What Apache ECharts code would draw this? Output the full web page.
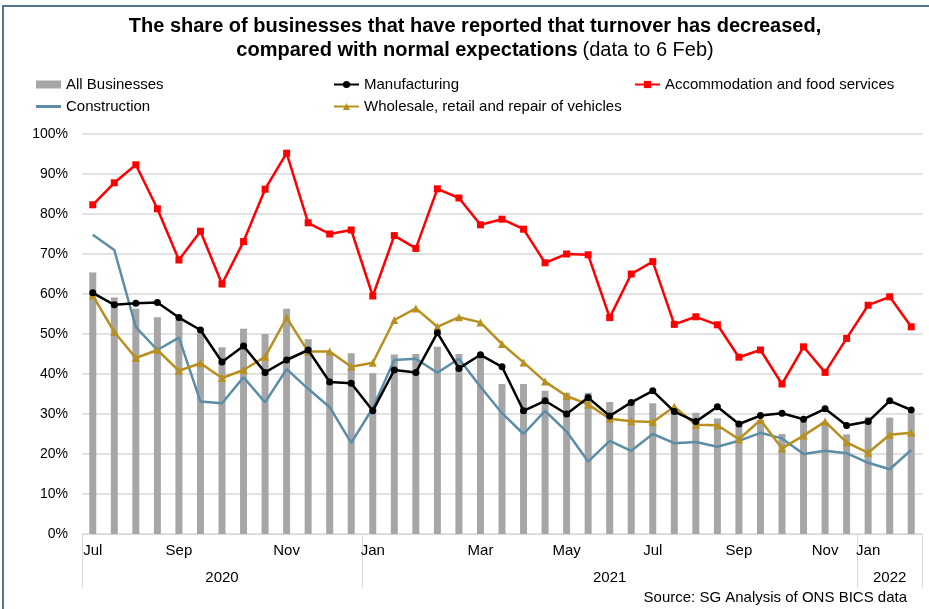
<!DOCTYPE html>
<html>
<head>
<meta charset="utf-8">
<script src="https://cdn.jsdelivr.net/npm/echarts@6/dist/echarts.min.js"></script>
<style>
  html, body { margin: 0; padding: 0; background: #fff; }
  #frame { position: absolute; left: 2px; top: 5px; width: 940px; height: 620px;
           border-left: 2px solid #4e7691; border-top: 2px solid #4e7691; box-sizing: border-box; }
  #chart { position: absolute; left: 0; top: 0; width: 929px; height: 609px; }
</style>
</head>
<body>
<div id="frame"></div>
<div id="chart"></div>
<script>
// ---- data (fortnightly survey waves, Jul 2020 – Feb 2022) ----
const monthLabels = ['Jul','','','','Sep','','','','','Nov','','','','Jan','','','','','Mar','','','','May','','','','Jul','','','','Sep','','','','Nov','','Jan','',''];
const yearLabels  = ['','','','','','','2020','','','','','','','','','','','','','','','','','','2021','','','','','','','','','','','','','2022',''];
const yearStartIdx = [0, 13, 36];
const periods = monthLabels.map((m, i) => 'w' + (i + 1));

const allBusinesses = [65.4, 59.1, 56.3, 54.2, 53.5, 50.2, 46.7, 51.3, 50.0, 56.3, 48.7, 45.5, 45.2, 40.2, 44.9, 45.0, 46.8, 45.0, 44.2, 37.5, 37.5, 35.8, 35.3, 35.3, 33.0, 32.7, 32.7, 30.5, 30.3, 28.9, 27.7, 28.5, 25.0, 28.1, 28.0, 24.9, 29.3, 29.1, 30.2];
const manufacturing = [60.3, 57.3, 57.7, 57.9, 54.1, 51.0, 43.0, 47.0, 40.4, 43.5, 46.0, 38.0, 37.7, 30.8, 41.0, 40.4, 50.3, 41.4, 44.8, 41.8, 30.8, 33.3, 30.0, 34.1, 29.5, 32.9, 35.8, 30.6, 28.1, 31.8, 27.5, 29.6, 30.2, 28.7, 31.3, 27.1, 28.1, 33.3, 31.0];
const accommodation = [82.3, 87.8, 92.3, 81.3, 68.5, 75.7, 62.5, 73.1, 86.2, 95.2, 77.8, 75.0, 76.0, 59.5, 74.6, 71.4, 86.3, 84.0, 77.3, 78.7, 76.2, 67.8, 70.0, 69.8, 54.1, 65.0, 68.1, 52.4, 54.3, 52.3, 44.2, 46.0, 37.5, 46.8, 40.4, 48.9, 57.2, 59.3, 51.8];
const construction  = [74.8, 71.0, 51.7, 46.0, 49.1, 33.1, 32.7, 39.2, 32.9, 41.2, 36.3, 31.7, 22.8, 31.5, 43.5, 43.8, 40.3, 43.8, 36.8, 30.2, 25.0, 30.8, 25.6, 18.1, 23.3, 20.8, 25.0, 22.7, 23.0, 21.8, 23.3, 25.3, 23.9, 20.0, 20.8, 20.2, 17.8, 16.2, 21.0];
const wholesale     = [59.6, 50.5, 44.0, 46.0, 40.8, 42.7, 39.0, 41.0, 44.3, 54.1, 45.6, 45.6, 41.8, 42.8, 53.5, 56.4, 51.8, 54.2, 52.9, 47.5, 42.9, 38.1, 34.5, 32.4, 28.8, 28.2, 28.0, 31.8, 27.3, 27.2, 23.7, 28.5, 21.4, 24.6, 28.1, 22.9, 20.3, 24.8, 25.3];

const FONT = "'Liberation Sans', Arial, sans-serif";
const C = { bar: '#a6a6a6', man: '#000000', acc: '#ff0000', con: '#5b8ea6', whl: '#b8901f', grid: '#d9d9d9' };

const chart = echarts.init(document.getElementById('chart'), null, { renderer: 'canvas' });

function legendAt(name, left, top, h, icon) {
  const o = { data: [name], left: left, top: top, padding: 0, itemWidth: 25, itemHeight: h,
           selectedMode: false, textStyle: { fontFamily: FONT, fontSize: 15, color: '#000' } };
  if (icon) o.icon = icon;
  return o;
}

chart.setOption({
  animation: false,
  backgroundColor: 'transparent',
  title: [
    {
      text: '{b|The share of businesses that have reported that turnover has decreased,}\n{b|compared with normal expectations} {n|(data to 6 Feb)}',
      left: 475, top: 14, textAlign: 'center', padding: 0,
      textStyle: {
        fontFamily: FONT, lineHeight: 24,
        rich: {
          b: { fontFamily: FONT, fontSize: 20, fontWeight: 'bold', color: '#000', lineHeight: 24 },
          n: { fontFamily: FONT, fontSize: 20, fontWeight: 'normal', color: '#000', lineHeight: 24 }
        }
      }
    },
    {
      text: 'Source: SG Analysis of ONS BICS data',
      right: 22, bottom: 4, padding: 0,
      textStyle: { fontFamily: FONT, fontSize: 15, fontWeight: 'normal', color: '#000' }
    }
  ],
  legend: [
    legendAt('All Businesses', 36, 77, 8, 'rect'),
    legendAt('Construction', 36, 99, 3, 'rect'),
    legendAt('Manufacturing', 333, 77, 9),
    legendAt('Wholesale, retail and repair of vehicles', 333, 99, 9),
    legendAt('Accommodation and food services', 634, 77, 9)
  ],
  grid: { left: 82, right: 7, top: 134, bottom: 75, containLabel: false },
  xAxis: [
    {
      type: 'category', data: periods, boundaryGap: true,
      axisLine: { show: true, lineStyle: { color: C.grid, width: 1 } },
      axisTick: { show: false },
      axisLabel: { interval: 0, margin: 9, fontFamily: FONT, fontSize: 15, color: '#000',
                   formatter: (v, i) => monthLabels[i] },
      splitLine: { show: false }
    },
    {
      type: 'category', data: periods, boundaryGap: true, position: 'bottom', offset: 0,
      axisLine: { show: false },
      axisTick: { show: true, length: 54, interval: (i) => yearStartIdx.indexOf(i) >= 0,
                  lineStyle: { color: C.grid, width: 1 } },
      axisLabel: { interval: 0, margin: 36, fontFamily: FONT, fontSize: 15, color: '#000',
                   formatter: (v, i) => yearLabels[i] },
      splitLine: { show: false }
    }
  ],
  yAxis: {
    type: 'value', min: 0, max: 100, interval: 10,
    axisLine: { show: false }, axisTick: { show: false },
    axisLabel: { formatter: '{value}%', margin: 14, fontFamily: FONT, fontSize: 14, color: '#000' },
    splitLine: { lineStyle: { color: C.grid, width: 1.5 } }
  },
  series: [
    { name: 'All Businesses', type: 'bar', xAxisIndex: 0, data: allBusinesses, barWidth: 7,
      itemStyle: { color: C.bar }, z: 1 },
    { name: 'Construction', type: 'line', xAxisIndex: 0, data: construction, symbol: 'none',
      lineStyle: { color: C.con, width: 2.5 }, itemStyle: { color: C.con }, z: 2 },
    { name: 'Wholesale, retail and repair of vehicles', type: 'line', xAxisIndex: 0, data: wholesale,
      symbol: 'triangle', symbolSize: 8, showSymbol: true,
      lineStyle: { color: C.whl, width: 2.5 }, itemStyle: { color: C.whl }, z: 3 },
    { name: 'Manufacturing', type: 'line', xAxisIndex: 0, data: manufacturing,
      symbol: 'circle', symbolSize: 7, showSymbol: true,
      lineStyle: { color: C.man, width: 2.5 }, itemStyle: { color: C.man }, z: 4 },
    { name: 'Accommodation and food services', type: 'line', xAxisIndex: 0, data: accommodation,
      symbol: 'rect', symbolSize: 7, showSymbol: true,
      lineStyle: { color: C.acc, width: 2.5 }, itemStyle: { color: C.acc }, z: 5 }
  ]
});
</script>
</body>
</html>
